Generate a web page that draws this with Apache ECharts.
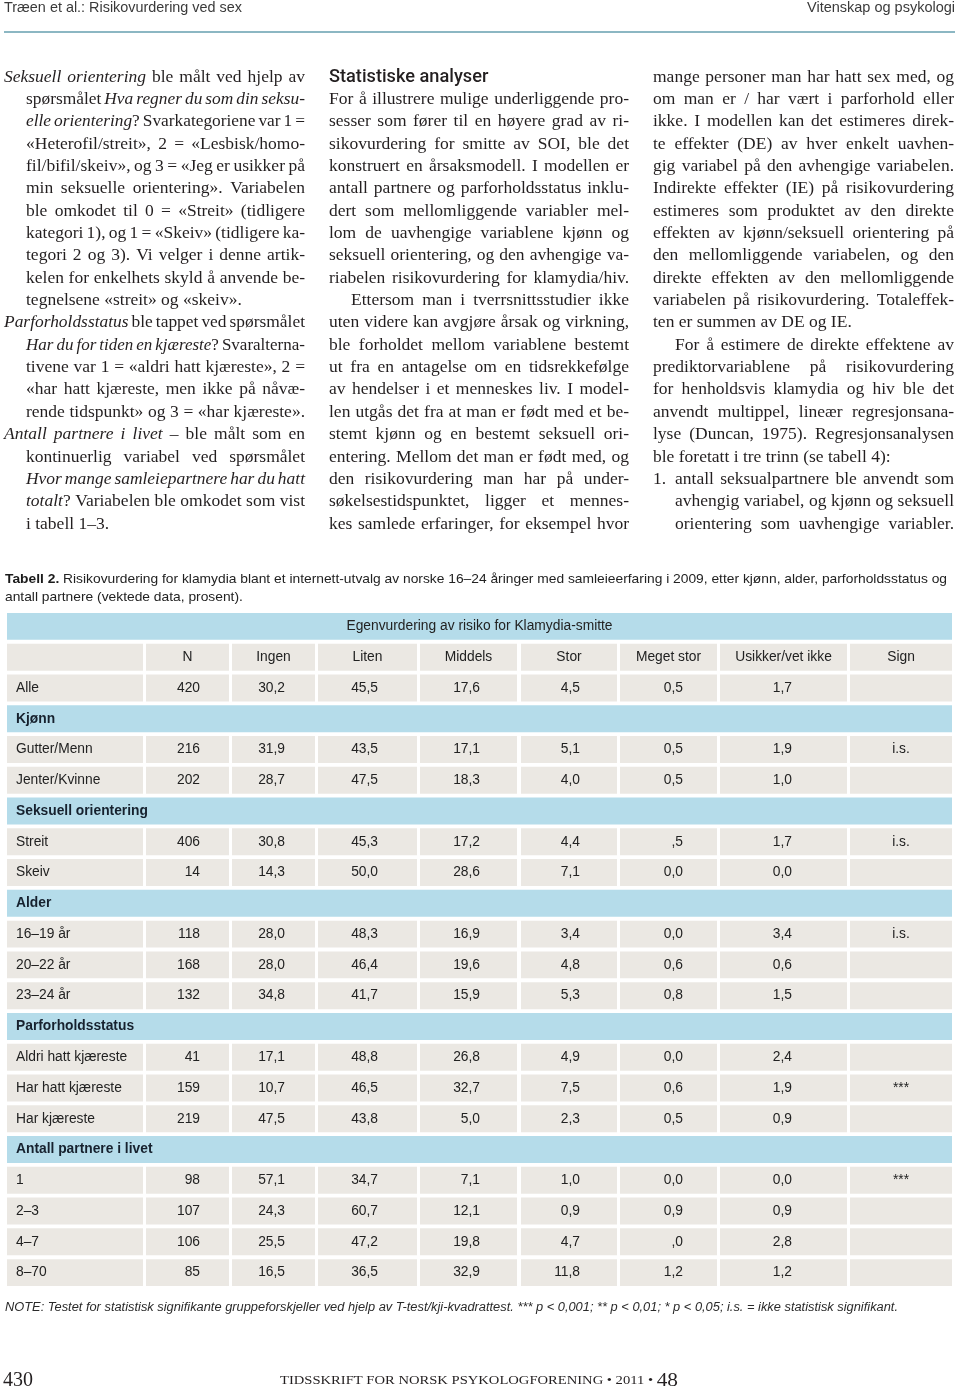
<!DOCTYPE html>
<html>
<head>
<meta charset="utf-8">
<script src="https://cdn.jsdelivr.net/npm/echarts@6/dist/echarts.min.js"></script>
<style>
  html, body { margin: 0; padding: 0; background: #fff; }
  #chart { width: 960px; height: 1392px; }
</style>
</head>
<body>
<div id="chart"></div>
<script>
// ---- table content ----
const tableTitle = 'Egenvurdering av risiko for Klamydia-smitte'
const columnNames = ['', 'N', 'Ingen', 'Liten', 'Middels', 'Stor', 'Meget stor', 'Usikker/vet ikke', 'Sign']
const rowLabels = ['Alle', 'Kjønn', 'Gutter/Menn', 'Jenter/Kvinne', 'Seksuell orientering', 'Streit', 'Skeiv',
  'Alder', '16–19 år', '20–22 år', '23–24 år', 'Parforholdsstatus', 'Aldri hatt kjæreste', 'Har hatt kjæreste',
  'Har kjæreste', 'Antall partnere i livet', '1', '2–3', '4–7', '8–70']
const groupRows = ['Kjønn', 'Seksuell orientering', 'Alder', 'Parforholdsstatus', 'Antall partnere i livet']

// one entry per data row (group rows skipped)
const nValues = [420, 216, 202, 406, 14, 118, 168, 132, 41, 159, 219, 98, 107, 106, 85]
const ingen = ['30,2', '31,9', '28,7', '30,8', '14,3', '28,0', '28,0', '34,8', '17,1', '10,7', '47,5', '57,1', '24,3', '25,5', '16,5']
const liten = ['45,5', '43,5', '47,5', '45,3', '50,0', '48,3', '46,4', '41,7', '48,8', '46,5', '43,8', '34,7', '60,7', '47,2', '36,5']
const middels = ['17,6', '17,1', '18,3', '17,2', '28,6', '16,9', '19,6', '15,9', '26,8', '32,7', '5,0', '7,1', '12,1', '19,8', '32,9']
const stor = ['4,5', '5,1', '4,0', '4,4', '7,1', '3,4', '4,8', '5,3', '4,9', '7,5', '2,3', '1,0', '0,9', '4,7', '11,8']
const megetStor = ['0,5', '0,5', '0,5', ',5', '0,0', '0,0', '0,6', '0,8', '0,0', '0,6', '0,5', '0,0', '0,9', ',0', '1,2']
const usikker = ['1,7', '1,9', '1,0', '1,7', '0,0', '3,4', '0,6', '1,5', '2,4', '1,9', '0,9', '0,0', '0,9', '2,8', '1,2']
const sign = ['', 'i.s.', '', 'i.s.', '', 'i.s.', '', '', '', '***', '', '***', '', '', '']

// ---- body text (codes: H heading, P paragraph start, C line, L list start, I list line; '.' = not justified) ----
const columnOne = [
  ['P', '*Seksuell orientering* ble målt ved hjelp av'],
  ['C', 'spørsmålet *Hva regner du som din seksu-*'],
  ['C', '*elle orientering*? Svarkategoriene var 1 ='],
  ['C', '«Heterofil/streit», 2 = «Lesbisk/homo-'],
  ['C', 'fil/bifil/skeiv», og 3 = «Jeg er usikker på'],
  ['C', 'min seksuelle orientering».  Variabelen'],
  ['C', 'ble omkodet til 0 = «Streit» (tidligere'],
  ['C', 'kategori 1), og 1 = «Skeiv» (tidligere ka-'],
  ['C', 'tegori 2 og 3). Vi velger i denne artik-'],
  ['C', 'kelen for enkelhets skyld å anvende be-'],
  ['C.', 'tegnelsene «streit» og «skeiv».'],
  ['P', '*Parforholdsstatus* ble tappet ved spørsmålet'],
  ['C', '*Har du for tiden en kjæreste*? Svaralterna-'],
  ['C', 'tivene var 1 = «aldri hatt kjæreste», 2 ='],
  ['C', '«har hatt kjæreste, men ikke på nåvæ-'],
  ['C', 'rende tidspunkt» og 3 = «har kjæreste».'],
  ['P', '*Antall partnere i livet* – ble målt som en'],
  ['C', 'kontinuerlig variabel ved spørsmålet'],
  ['C', '*Hvor mange samleiepartnere har du hatt*'],
  ['C', '*totalt*? Variabelen ble omkodet som vist'],
  ['C.', 'i tabell 1–3.']
]
const columnTwo = [
  ['H', 'Statistiske analyser'],
  ['C', 'For å illustrere mulige underliggende pro-'],
  ['C', 'sesser som fører til en høyere grad av ri-'],
  ['C', 'sikovurdering for smitte av SOI, ble det'],
  ['C', 'konstruert en årsaksmodell. I modellen er'],
  ['C', 'antall partnere og parforholdsstatus inklu-'],
  ['C', 'dert som mellomliggende variabler mel-'],
  ['C', 'lom de uavhengige variablene kjønn og'],
  ['C', 'seksuell orientering, og den avhengige va-'],
  ['C', 'riabelen risikovurdering for klamydia/hiv.'],
  ['P', 'Ettersom man i tverrsnittsstudier ikke'],
  ['C', 'uten videre kan avgjøre årsak og virkning,'],
  ['C', 'ble forholdet mellom variablene bestemt'],
  ['C', 'ut fra en antagelse om en tidsrekkefølge'],
  ['C', 'av hendelser i et menneskes liv. I model-'],
  ['C', 'len utgås det fra at man er født med et be-'],
  ['C', 'stemt kjønn og en bestemt seksuell ori-'],
  ['C', 'entering. Mellom det man er født med, og'],
  ['C', 'den risikovurdering man har på under-'],
  ['C', 'søkelsestidspunktet, ligger et mennes-'],
  ['C', 'kes samlede erfaringer, for eksempel hvor']
]
const columnThree = [
  ['C', 'mange personer man har hatt sex med, og'],
  ['C', 'om man er / har vært i parforhold eller'],
  ['C', 'ikke. I modellen kan det estimeres direk-'],
  ['C', 'te effekter (DE) av hver enkelt uavhen-'],
  ['C', 'gig variabel på den avhengige variabelen.'],
  ['C', 'Indirekte effekter (IE) på risikovurdering'],
  ['C', 'estimeres som produktet av den direkte'],
  ['C', 'effekten av kjønn/seksuell orientering på'],
  ['C', 'den mellomliggende variabelen, og den'],
  ['C', 'direkte effekten av den mellomliggende'],
  ['C', 'variabelen på risikovurdering. Totaleffek-'],
  ['C.', 'ten er summen av DE og IE.'],
  ['P', 'For å estimere de direkte effektene av'],
  ['C', 'prediktorvariablene på risikovurdering'],
  ['C', 'for henholdsvis klamydia og hiv ble det'],
  ['C', 'anvendt multippel, lineær regresjonsana-'],
  ['C', 'lyse (Duncan, 1975). Regresjonsanalysen'],
  ['C.', 'ble foretatt i tre trinn (se tabell 4):'],
  ['L', '1.|antall seksualpartnere ble anvendt som'],
  ['I', 'avhengig variabel, og kjønn og seksuell'],
  ['I', 'orientering som uavhengige variabler.']
]

const runningHead = 'Træen et al.: Risikovurdering ved sex'
const runningSection = 'Vitenskap og psykologi'
const captionBold = 'Tabell 2.'
const captionLineOne = ' Risikovurdering for klamydia blant et internett-utvalg av norske 16–24 åringer med samleieerfaring i 2009, etter kjønn, alder, parforholdsstatus og'
const captionLineTwo = 'antall partnere (vektede data, prosent).'
const note = 'NOTE: Testet for statistisk signifikante gruppeforskjeller ved hjelp av T-test/kji-kvadrattest. *** p < 0,001; ** p < 0,01; * p < 0,05; i.s. = ikke statistisk signifikant.'
const pageNumber = '430'
const journal = 'TIDSSKRIFT FOR NORSK PSYKOLOGFORENING • 2011 • '
const volume = '48'

// ---- layout ----
const SANS = "'Liberation Sans', Arial, sans-serif"
const SERIF = "'Liberation Serif', 'Times New Roman', serif"
const bodyFont = '17.5px ' + SERIF
const bodyItalic = 'italic 17.5px ' + SERIF
const ink = '#231f20'
const blue = '#b5dcea'
const grey = '#ebe8e3'
const colEdges = [[0, 136], [139, 222], [225, 308], [311, 410], [413, 510], [514, 610], [613, 710], [713, 840], [843, 945]]
const valueRight = [null, 193, 278, 371, 473, 573, 676, 785, null]
const columnBoxes = [
  { right: 305, P: 4, C: 26, I: 26 },
  { right: 629, P: 351, C: 329, H: 329 },
  { right: 954, P: 675, C: 653, L: 653, I: 675 }
]
const lineTop = 77
const lineStep = 22.35

const ctx = document.createElement('canvas').getContext('2d')
function measure(s, font) {
  ctx.font = font
  return ctx.measureText(s).width
}

// ---- build cells ----
const cells = []
const columnValues = [null, nValues.map(String), ingen, liten, middels, stor, megetStor, usikker, sign]
let row = 0
cells.push({ x0: 0, x1: 945, row: row, fill: blue, text: tableTitle, align: 'center' })
row++
columnNames.forEach((name, c) => {
  cells.push({ x0: colEdges[c][0], x1: colEdges[c][1], row: row, fill: grey, text: name, align: 'center' })
})
row++
let dataIndex = 0
rowLabels.forEach(label => {
  if (groupRows.indexOf(label) >= 0) {
    cells.push({ x0: 0, x1: 945, row: row, fill: blue, text: label, align: 'left', bold: true })
  } else {
    colEdges.forEach((edge, c) => {
      const cell = { x0: edge[0], x1: edge[1], row: row, fill: grey }
      if (c === 0) {
        cell.text = label
        cell.align = 'left'
      } else {
        cell.text = columnValues[c][dataIndex]
        if (valueRight[c] != null) {
          cell.align = 'right'
          cell.anchor = valueRight[c]
        } else {
          cell.align = 'center'
        }
      }
      cells.push(cell)
    })
    dataIndex++
  }
  row++
})
const rowCount = row

function renderCell(params, api) {
  const c = cells[params.dataIndex]
  const a = api.coord([c.x0, c.row])
  const b = api.coord([c.x1, c.row])
  const h = api.size([0, 1])[1] - 3.8
  const children = [{
    type: 'rect',
    shape: { x: a[0], y: a[1] - h / 2, width: b[0] - a[0], height: h },
    style: { fill: c.fill }
  }]
  if (c.text) {
    let tx = (a[0] + b[0]) / 2
    if (c.align === 'left') tx = a[0] + 9
    if (c.align === 'right') tx = api.coord([c.anchor, c.row])[0]
    children.push({
      type: 'text',
      x: tx,
      y: a[1],
      style: {
        text: c.text,
        font: (c.bold ? 'bold ' : '') + '13.8px ' + SANS,
        fill: c.bold ? '#16212e' : '#222',
        textAlign: c.align,
        textVerticalAlign: 'middle'
      }
    })
  }
  return { type: 'group', children: children }
}

// ---- body text elements ----
const elements = []

function wordRuns(word, state) {
  const runs = []
  let cur = ''
  for (const ch of word) {
    if (ch === '*') {
      if (cur) runs.push({ t: cur, it: state.it })
      cur = ''
      state.it = !state.it
    } else {
      cur += ch
    }
  }
  if (cur) runs.push({ t: cur, it: state.it })
  return runs
}

function layoutLine(str, x0, x1, y, justify) {
  const state = { it: false }
  const words = str.split(/ +/).filter(Boolean).map(w => {
    const runs = wordRuns(w, state)
    let width = 0
    runs.forEach(r => { r.w = measure(r.t, r.it ? bodyItalic : bodyFont); width += r.w })
    return { runs: runs, w: width }
  })
  const total = words.reduce((s, w) => s + w.w, 0)
  const gaps = words.length - 1
  let space = measure(' ', bodyFont)
  let scale = 1
  if (justify && gaps > 0) space = (x1 - x0 - total) / gaps
  if (space < 3) {
    space = 3
    scale = (x1 - x0 - gaps * space) / total
  }
  let x = x0
  words.forEach(w => {
    w.runs.forEach(r => {
      elements.push({
        type: 'text', x: x, y: y, scaleX: scale, silent: true,
        style: { text: r.t, font: r.it ? bodyItalic : bodyFont, fill: ink, textVerticalAlign: 'middle' }
      })
      x += r.w * scale
    })
    x += space
  })
}

function layoutColumn(lines, box) {
  lines.forEach((entry, i) => {
    const code = entry[0][0]
    const justify = entry[0].indexOf('.') < 0
    const y = lineTop + i * lineStep
    if (code === 'H') {
      elements.push({
        type: 'text', x: box.H, y: y, silent: true,
        style: { text: entry[1], font: '500 18.2px Roboto, ' + SANS, fill: ink, textVerticalAlign: 'middle' }
      })
    } else if (code === 'L') {
      const parts = entry[1].split('|')
      elements.push({
        type: 'text', x: box.L, y: y, silent: true,
        style: { text: parts[0], font: bodyFont, fill: ink, textVerticalAlign: 'middle' }
      })
      layoutLine(parts[1], box.I, box.right, y, justify)
    } else {
      layoutLine(entry[1], box[code], box.right, y, justify)
    }
  })
}

layoutColumn(columnOne, columnBoxes[0])
layoutColumn(columnTwo, columnBoxes[1])
layoutColumn(columnThree, columnBoxes[2])

// fitted single-line texts (condensed look of the original sans)
function fitted(text, font, x, y, width, align, fill) {
  return {
    type: 'text', x: x, y: y, silent: true, scaleX: width / measure(text, font),
    style: { text: text, font: font, fill: fill || '#333', textAlign: align || 'left', textVerticalAlign: 'middle' }
  }
}

elements.push(fitted(runningHead, '14.5px ' + SANS, 4, 8, 238, 'left', '#3a3a3a'))
elements.push(fitted(runningSection, '14.5px ' + SANS, 955, 8, 148, 'right', '#3a3a3a'))
elements.push({
  type: 'line', silent: true,
  shape: { x1: 4, y1: 32, x2: 955, y2: 32 },
  style: { stroke: '#8cb7c3', lineWidth: 2 }
})

const capBoldFont = 'bold 13.5px ' + SANS
const capFont = '13.5px ' + SANS
const capWidth = measure(captionBold, capBoldFont) + measure(captionLineOne, capFont)
const capScale = 942 / capWidth
elements.push({
  type: 'text', x: 5, y: 579, silent: true, scaleX: capScale,
  style: {
    text: '{b|' + captionBold + '}{r|' + captionLineOne + '}',
    textVerticalAlign: 'middle',
    rich: { b: { font: capBoldFont, fill: '#1a1a1a' }, r: { font: capFont, fill: '#222' } }
  }
})
elements.push({
  type: 'text', x: 5, y: 597, silent: true, scaleX: capScale,
  style: { text: captionLineTwo, font: capFont, fill: '#222', textVerticalAlign: 'middle' }
})

elements.push(fitted(note, 'italic 12px ' + SANS, 5, 1308, 893, 'left', '#2a2a2a'))

elements.push({
  type: 'text', x: 3, y: 1381, silent: true,
  style: { text: pageNumber, font: '20px ' + SERIF, fill: ink, textVerticalAlign: 'middle' }
})
const jFont = '13px ' + SERIF
const vFont = '19px ' + SERIF
const jScale = 398 / (measure(journal, jFont) + measure(volume, vFont))
elements.push({
  type: 'text', x: 280, y: 1381, silent: true, scaleX: jScale,
  style: {
    text: '{j|' + journal + '}{v|' + volume + '}',
    textVerticalAlign: 'middle',
    rich: { j: { font: jFont, fill: ink }, v: { font: vFont, fill: ink } }
  }
})

// ---- chart ----
const chart = echarts.init(document.getElementById('chart'))
const option = {
  animation: false,
  grid: { left: 7, right: 8, top: 611, height: 677 },
  xAxis: { type: 'value', min: 0, max: 945, show: false },
  yAxis: { type: 'category', inverse: true, show: false, data: Array.from({ length: rowCount }, (_, i) => i) },
  series: [{
    type: 'custom',
    renderItem: renderCell,
    encode: { x: [0, 1], y: 2 },
    data: cells.map((c, i) => [c.x0, c.x1, c.row, i]),
    silent: true
  }],
  graphic: { elements: elements }
}
chart.setOption(option)
</script>
</body>
</html>
